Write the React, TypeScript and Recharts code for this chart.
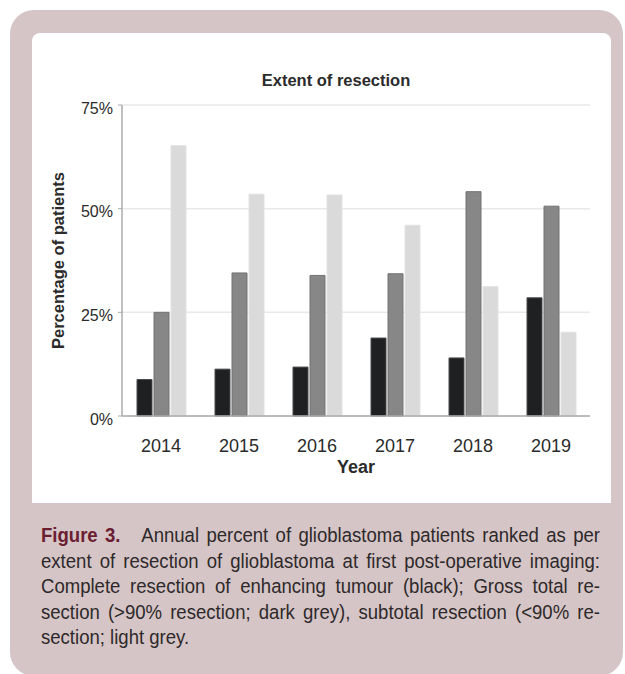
import { BarChart, Bar, XAxis, YAxis, CartesianGrid, Label } from "recharts";

// share of patients per year, by extent of resection (%)
const YEARS = ["2014", "2015", "2016", "2017", "2018", "2019"];
const COMPLETE = [8.8, 11.3, 11.8, 18.8, 14.0, 28.5];
const GROSS_TOTAL = [25.0, 34.5, 33.9, 34.3, 54.1, 50.6];
const SUBTOTAL = [65.2, 53.5, 53.3, 46.0, 31.2, 20.2];
const Y_TICKS = [0, 25, 50, 75];
const EDGE_TICKS = [0, 1, 2, 3, 4, 5, 6];

const data = YEARS.map((year, i) => ({
  year,
  complete: COMPLETE[i],
  gross: GROSS_TOTAL[i],
  subtotal: SUBTOTAL[i],
}));

const AXIS = "#ababab";
const TEXT = "#2b2b2b";
const SANS = "'Liberation Sans', Arial, Helvetica, sans-serif";

// caption face is a condensed sans; squeeze a regular one horizontally
const CAPTION_SQUEEZE = 0.905;
const CAPTION_WIDTH = 559;

const captionLines = [
  "extent of resection of glioblastoma at first post-operative imaging:",
  "Complete resection of enhancing tumour (black); Gross total re-",
  "section (>90% resection; dark grey), subtotal resection (<90% re-",
];

export default function App() {
  const lineStyle: React.CSSProperties = {
    textAlign: "justify",
    textAlignLast: "justify",
    whiteSpace: "nowrap",
  };

  return (
    <div style={{ position: "absolute", left: 0, top: 0, width: 625, height: 674, background: "#fff", overflow: "hidden" }}>
      <div
        style={{
          position: "absolute",
          left: 10,
          top: 10,
          width: 613,
          height: 666,
          background: "#d5c5c6",
          borderRadius: 24,
        }}
      />
      <div
        style={{
          position: "absolute",
          left: 32,
          top: 33,
          width: 579,
          height: 470,
          background: "#fff",
          borderRadius: "8px 8px 0 0",
        }}
      >
        <div
          style={{
            position: "absolute",
            left: 0,
            width: 608,
            top: 37,
            textAlign: "center",
            fontFamily: SANS,
            fontWeight: "bold",
            fontSize: 16.5,
            color: TEXT,
            lineHeight: "20px",
          }}
        >
          Extent of resection
        </div>
        <BarChart
          width={578}
          height={470}
          data={data}
          barSize={15}
          barGap={2}
          margin={{ top: 72, right: 20, bottom: 47, left: 0 }}
          style={{ position: "absolute", left: 0, top: 0 }}
        >
          <CartesianGrid vertical={false} stroke="#e9e9e9" strokeWidth={1.5} />
          <XAxis
            xAxisId="edges"
            type="number"
            domain={[0, 6]}
            ticks={EDGE_TICKS}
            height={0}
            axisLine={false}
            tick={false}
            tickSize={4}
            tickLine={{ stroke: AXIS }}
          />
          <XAxis
            dataKey="year"
            height={40}
            axisLine={{ stroke: AXIS, strokeWidth: 1.5 }}
            tickLine={false}
            tickMargin={17}
            tick={{ fill: TEXT, fontSize: 18, fontFamily: SANS }}
          >
            <Label
              content={({ viewBox }: any) => (
                <text
                  x={viewBox.x + viewBox.width / 2}
                  y={viewBox.y + 56.5}
                  textAnchor="middle"
                  fontFamily={SANS}
                  fontWeight="bold"
                  fontSize={18}
                  fill={TEXT}
                >
                  Year
                </text>
              )}
            />
          </XAxis>
          <YAxis
            width={90}
            domain={[0, 75]}
            ticks={Y_TICKS}
            interval={0}
            tickFormatter={(v: number) => `${v}%`}
            axisLine={{ stroke: AXIS, strokeWidth: 1.5 }}
            tickLine={{ stroke: AXIS }}
            tickSize={4}
            tickMargin={5}
            tick={{ fill: TEXT, fontSize: 16, fontFamily: SANS, dy: 3 }}
          >
            <Label
              content={({ viewBox }: any) => {
                const x = 31.5;
                const y = viewBox.y + viewBox.height / 2;
                return (
                  <text
                    x={x}
                    y={y}
                    transform={`rotate(-90, ${x}, ${y})`}
                    textAnchor="middle"
                    fontFamily={SANS}
                    fontWeight="bold"
                    fontSize={16.5}
                    fill={TEXT}
                  >
                    Percentage of patients
                  </text>
                );
              }}
            />
          </YAxis>
          <Bar dataKey="complete" fill="#1f2022" stroke="#4a4a4c" strokeWidth={1} isAnimationActive={false} />
          <Bar dataKey="gross" fill="#878787" stroke="#737373" strokeWidth={1} isAnimationActive={false} />
          <Bar dataKey="subtotal" fill="#dadada" stroke="#e2e2e2" strokeWidth={1} isAnimationActive={false} />
        </BarChart>
      </div>
      <div
        style={{
          position: "absolute",
          left: 41,
          top: 522,
          width: CAPTION_WIDTH / CAPTION_SQUEEZE,
          transform: `scaleX(${CAPTION_SQUEEZE})`,
          transformOrigin: "left top",
          fontFamily: SANS,
          fontSize: 20.5,
          lineHeight: "25.5px",
          color: "#2e292a",
        }}
      >
        <div style={lineStyle}>
          <span style={{ fontWeight: "bold", color: "#6b1e32", marginRight: 16 }}>Figure 3.</span> Annual percent of
          glioblastoma patients ranked as per
        </div>
        {captionLines.map((line) => (
          <div key={line} style={lineStyle}>
            {line}
          </div>
        ))}
        <div>section; light grey.</div>
      </div>
    </div>
  );
}
